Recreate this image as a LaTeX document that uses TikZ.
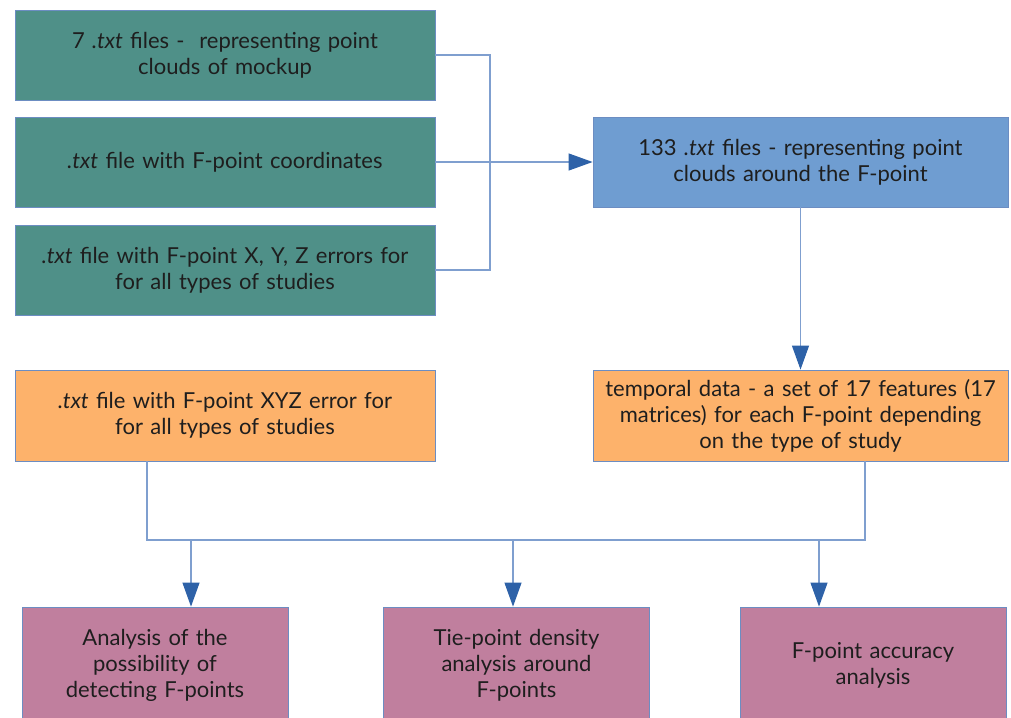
\documentclass[tikz,border=0pt]{standalone}
\usepackage{fontspec}
\setmainfont{Lato}
\usetikzlibrary{arrows.meta}
\definecolor{teal1}{HTML}{4F9088}
\definecolor{blue1}{HTML}{6F9DD1}
\definecolor{orange1}{HTML}{FDB26B}
\definecolor{purple1}{HTML}{C07F9E}
\definecolor{edge1}{HTML}{6C8DC2}
\definecolor{line1}{HTML}{7F9FCF}
\definecolor{tip1}{HTML}{2E62A8}
\definecolor{txt1}{HTML}{1E1E1E}
\tikzset{
  x=1pt,y=-1pt,
  box/.style={draw=edge1, line width=0.8pt, align=center, text=txt1, inner sep=0pt,
    font=\fontsize{22}{26}\selectfont},
  tealbox/.style={box, fill=teal1, minimum width=420pt, minimum height=90pt, text width=405pt},
  bluebox/.style={box, fill=blue1, minimum width=415pt, minimum height=90pt, text width=405pt},
  orangebox/.style={box, fill=orange1, minimum width=420pt, minimum height=91pt, text width=405pt},
  orangebox2/.style={box, fill=orange1, minimum width=415pt, minimum height=91pt, text width=412pt},
  purplebox/.style={box, fill=purple1, minimum width=266pt, minimum height=116pt, text width=255pt},
  conn/.style={draw=line1, line width=1.1pt},
  arr/.style={conn, -{Triangle[length=24pt,width=17pt,fill=tip1,color=tip1]}},
}
\begin{document}
\begin{tikzpicture}
\useasboundingbox (0,0) rectangle (1011,717);
\begin{scope}
\clip (0,0) rectangle (1011,717);
\node[tealbox] (t1) at (225,55) {7 \textit{.txt} files -\ \ representing point\\clouds of mockup};
\node[tealbox] (t2) at (225,162) {\textit{.txt} file with F-point coordinates};
\node[tealbox] (t3) at (225,270) {\textit{.txt} file with F-point X, Y, Z errors for\\for all types of studies};
\node[bluebox] (b1) at (800.5,162) {133 \textit{.txt} files - representing point\\clouds around the F-point};
\node[orangebox] (o1) at (225,415.5) {\textit{.txt} file with F-point XYZ error for\\for all types of studies};
\node[orangebox2] (o2) at (800.5,415.5) {temporal data - a set of 17 features (17\\matrices) for each F-point depending\\on the type of study};
\node[purplebox] (p1) at (155,665) {Analysis of the\\possibility of\\detecting F-points};
\node[purplebox] (p2) at (516.5,665) {Tie-point density\\analysis around\\F-points};
\node[purplebox] (p3) at (873,665) {F-point accuracy\\analysis};

\coordinate (k1) at (490,55);
\coordinate (j1) at (147,540);
\coordinate (j2) at (865,540);
\coordinate (a1) at (191,540);
\coordinate (a2) at (513,540);
\coordinate (a3) at (819,540);

\draw[conn] (t1.east |- k1) -- (k1) -- (k1 |- t3.east) -- (t3.east);
\draw[arr] (t2.east) -- (b1.west);
\draw[arr] (b1.south) -- (o2.north);
\draw[conn] (o1.south -| j1) -- (j1) -- (j2) -- (o2.south -| j2);
\draw[arr] (a1) -- (a1 |- p1.north);
\draw[arr] (a2) -- (a2 |- p2.north);
\draw[arr] (a3) -- (a3 |- p3.north);
\end{scope}
\end{tikzpicture}
\end{document}
